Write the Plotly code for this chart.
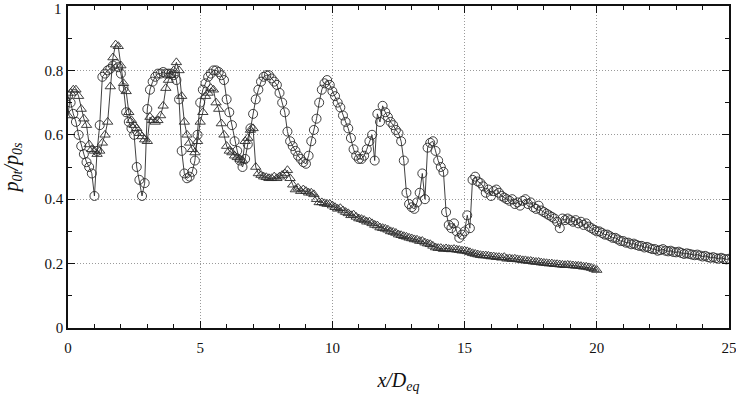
import plotly.graph_objects as go

step = 0.1
circle_y = [
    0.72, 0.70, 0.665, 0.64, 0.60, 0.565, 0.54, 0.515, 0.50, 0.48,
    0.41, 0.55, 0.63, 0.78, 0.79, 0.80, 0.805, 0.815, 0.82, 0.81,
    0.79, 0.745, 0.67, 0.64, 0.62, 0.60, 0.50, 0.46, 0.41, 0.45,
    0.68, 0.74, 0.765, 0.78, 0.79, 0.79, 0.795, 0.79, 0.79, 0.79,
    0.785, 0.77, 0.71, 0.55, 0.48, 0.465, 0.47, 0.485, 0.52, 0.60,
    0.70, 0.74, 0.76, 0.78, 0.79, 0.80, 0.80, 0.795, 0.785, 0.77,
    0.71, 0.67, 0.63, 0.58, 0.55, 0.52, 0.50, 0.525, 0.57, 0.62,
    0.665, 0.71, 0.74, 0.765, 0.78, 0.785, 0.785, 0.775, 0.765, 0.755,
    0.73, 0.70, 0.67, 0.61, 0.58, 0.565, 0.55, 0.535, 0.525, 0.515,
    0.51, 0.535, 0.58, 0.615, 0.65, 0.70, 0.74, 0.76, 0.77, 0.755,
    0.735, 0.72, 0.70, 0.685, 0.66, 0.64, 0.62, 0.59, 0.555, 0.535,
    0.525, 0.525, 0.535, 0.555, 0.58, 0.60, 0.52, 0.665, 0.64, 0.69,
    0.67, 0.655, 0.64, 0.63, 0.615, 0.605, 0.58, 0.52, 0.42, 0.385,
    0.375, 0.37, 0.39, 0.42, 0.48, 0.40, 0.56, 0.575, 0.58, 0.55,
    0.52, 0.50, 0.485, 0.36, 0.32, 0.31, 0.325, 0.30, 0.28, 0.29,
    0.30, 0.35, 0.31, 0.46, 0.47, 0.455, 0.45, 0.44, 0.42, 0.43,
    0.41, 0.425, 0.43, 0.42, 0.41, 0.405, 0.40, 0.395, 0.40, 0.385,
    0.39, 0.38, 0.395, 0.40, 0.385, 0.39, 0.375, 0.37, 0.38, 0.365,
    0.36, 0.355, 0.35, 0.345, 0.34, 0.33, 0.31, 0.34, 0.335, 0.34,
    0.335, 0.33, 0.335, 0.325, 0.33, 0.32, 0.325, 0.315, 0.31, 0.305,
    0.30, 0.30, 0.295, 0.29, 0.29, 0.285, 0.28, 0.28, 0.275, 0.27,
    0.27, 0.265, 0.265, 0.26, 0.262, 0.258, 0.255, 0.255, 0.25, 0.252,
    0.248, 0.245, 0.245, 0.24, 0.242, 0.245, 0.24, 0.238, 0.24, 0.236,
    0.235, 0.237, 0.233, 0.23, 0.232, 0.23, 0.228, 0.226, 0.228, 0.225,
    0.222, 0.224, 0.22, 0.218, 0.22, 0.217, 0.215, 0.218, 0.215, 0.213,
    0.215,
]
circle_x = [round(i * step, 2) for i in range(len(circle_y))]

triangle_y = [
    0.66, 0.73, 0.74, 0.74, 0.72, 0.68, 0.65, 0.63, 0.57, 0.555,
    0.55, 0.54, 0.55, 0.575, 0.60, 0.64, 0.75, 0.84, 0.88, 0.875,
    0.815, 0.76, 0.735, 0.67, 0.645, 0.63, 0.62, 0.605, 0.595, 0.585,
    0.58, 0.655, 0.645, 0.64, 0.645, 0.66, 0.69, 0.745, 0.77, 0.785,
    0.80, 0.825, 0.80, 0.72, 0.64, 0.60, 0.575, 0.555, 0.545, 0.58,
    0.64, 0.67, 0.72, 0.73, 0.745, 0.74, 0.70, 0.68, 0.635, 0.60,
    0.565, 0.55, 0.545, 0.535, 0.53, 0.525, 0.52, 0.58, 0.59, 0.615,
    0.62, 0.50, 0.48, 0.475, 0.47, 0.468, 0.465, 0.465, 0.47, 0.465,
    0.47, 0.475, 0.48, 0.49, 0.465, 0.445, 0.43, 0.435, 0.425, 0.43,
    0.425, 0.42, 0.42, 0.415, 0.40, 0.39, 0.39, 0.387, 0.385, 0.385,
    0.38, 0.375, 0.37, 0.372, 0.365, 0.36, 0.356, 0.35, 0.352, 0.345,
    0.34, 0.338, 0.335, 0.33, 0.33, 0.325, 0.32, 0.318, 0.312, 0.31,
    0.308, 0.305, 0.30, 0.298, 0.295, 0.29, 0.288, 0.285, 0.283, 0.28,
    0.278, 0.275, 0.274, 0.27, 0.27, 0.265, 0.262, 0.26, 0.255, 0.25,
    0.248, 0.248, 0.245, 0.247, 0.245, 0.244, 0.245, 0.243, 0.242, 0.24,
    0.24, 0.238, 0.235, 0.232, 0.23, 0.228, 0.226, 0.225, 0.225, 0.224,
    0.222, 0.222, 0.22, 0.22, 0.218, 0.22, 0.215, 0.216, 0.214, 0.215,
    0.213, 0.212, 0.21, 0.21, 0.208, 0.208, 0.206, 0.205, 0.205, 0.203,
    0.202, 0.201, 0.20, 0.20, 0.198, 0.198, 0.197, 0.196, 0.195, 0.196,
    0.195, 0.194, 0.193, 0.193, 0.192, 0.19, 0.19, 0.188, 0.186, 0.183,
    0.18,
]
triangle_x = [round(i * step, 2) for i in range(len(triangle_y))]

x_ticks = [0, 5, 10, 15, 20, 25]
y_ticks = [0, 0.2, 0.4, 0.6, 0.8, 1]
y_tick_text = ["0", "0.2", "0.4", "0.6", "0.8", ""]
y_top_label = "1"

ink = "#2b2b2b"
fig = go.Figure()
fig.add_trace(go.Scatter(
    x=circle_x, y=circle_y, mode="lines+markers",
    line=dict(color=ink, width=0.9),
    marker=dict(symbol="circle-open", size=9, color=ink, line=dict(width=0.9)),
    showlegend=False,
))
fig.add_trace(go.Scatter(
    x=triangle_x, y=triangle_y, mode="lines+markers",
    line=dict(color=ink, width=0.9),
    marker=dict(symbol="triangle-up-open", size=9, color=ink, line=dict(width=0.9)),
    showlegend=False,
))

tickfont = dict(family="Liberation Serif", size=15, color="#111")
axis_common = dict(
    showline=True, linecolor="#111", linewidth=1.5, mirror="ticks",
    ticks="inside", ticklen=7, tickwidth=1.2, tickcolor="#111",
    showgrid=True, gridcolor="#9a9a9a", griddash="1px,2px", gridwidth=1,
    zeroline=False, tickfont=tickfont, automargin=False,
    ticklabeloverflow="allow",
)
fig.update_xaxes(
    range=[0, 25], tickvals=x_ticks, ticktext=[str(v) for v in x_ticks],
    ticklabelstandoff=5,
    minor=dict(ticks="inside", dtick=1, ticklen=4, tickcolor="#111", showgrid=False),
    title=dict(text="<i>x/D</i><sub><i>eq</i></sub>",
               font=dict(family="Liberation Serif", size=20, color="#111"), standoff=20),
    **axis_common,
)
fig.update_yaxes(
    range=[0, 1], tickvals=y_ticks, ticktext=y_tick_text,
    minor=dict(ticks="inside", dtick=0.1, ticklen=4, tickcolor="#111", showgrid=False),
    title=dict(text="<i>p</i><sub><i>0t</i></sub><i>/p</i><sub><i>0s</i></sub>",
               font=dict(family="Liberation Serif", size=20, color="#111"), standoff=24),
    **axis_common,
)
fig.add_annotation(
    x=0, xref="x", y=y_ticks[-1], yref="y", text=y_top_label, showarrow=False,
    xanchor="right", yanchor="middle", xshift=-4, yshift=-3,
    font=tickfont,
)
fig.update_layout(
    width=736, height=394,
    margin=dict(l=68, r=7, t=6, b=66),
    paper_bgcolor="white", plot_bgcolor="white",
)
fig.write_html(
    "out.html",
    config={"displayModeBar": False},
    post_script="document.body.style.margin='0';document.body.style.overflow='hidden';",
)
